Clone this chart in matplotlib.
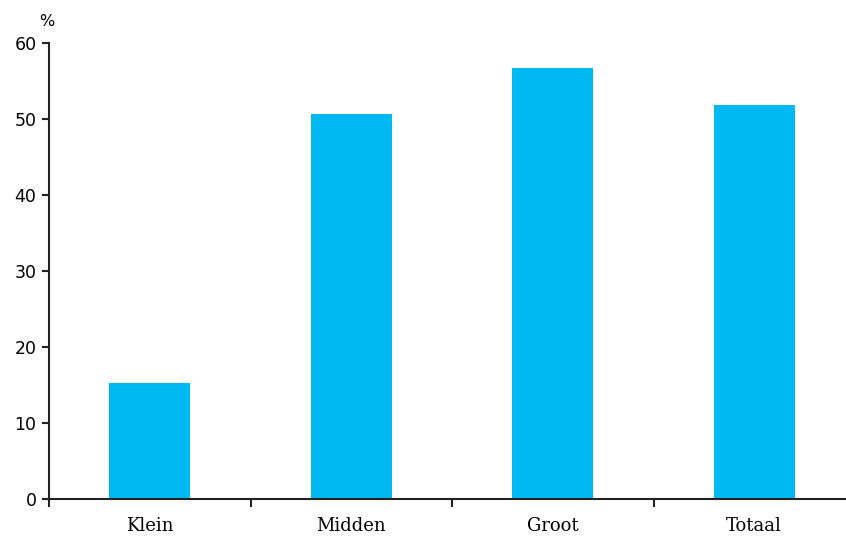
import matplotlib
matplotlib.use("Agg")
import matplotlib.pyplot as plt

# categories and values (%)
categories = ["Klein", "Midden", "Groot", "Totaal"]
values = [15.3, 50.6, 56.7, 51.8]
yticks = [0, 10, 20, 30, 40, 50, 60]

plt.rcParams['font.family'] = ['DejaVu Serif']

fig = plt.figure(figsize=(8.46, 5.36), dpi=100)
ax = fig.add_axes([49/846, 37/536, 806/846, 456/536])

x = list(range(len(categories)))
ax.bar(x, values, width=0.4, color="#00B9F2", zorder=2)

ax.set_xlim(-0.5, len(categories) - 0.5)
ax.set_ylim(0, 60)
ax.set_yticks(yticks)
ax.set_yticklabels([str(v) for v in yticks], fontsize=12.5, family='DejaVu Sans')

# category labels centered, ticks at boundaries
ax.set_xticks(x)
ax.set_xticklabels(categories, fontsize=13)
ax.tick_params(axis='x', which='major', length=0, pad=13)
ax.set_xticks([i - 0.5 for i in range(len(categories) + 1)], minor=True)
ax.tick_params(axis='x', which='minor', length=6, width=1.5, direction='out', color='#222222')
ax.tick_params(axis='y', length=5, width=1.5, direction='out', color='#222222', pad=4)

for s in ['top', 'right']:
    ax.spines[s].set_visible(False)
for s in ['left', 'bottom']:
    ax.spines[s].set_linewidth(1.5)
    ax.spines[s].set_color('#222222')

fig.text(47/846, 1 - 22/536, "%", fontsize=11.5, family='DejaVu Sans', ha='center', va='center')

fig.savefig("out.png", dpi=100)
